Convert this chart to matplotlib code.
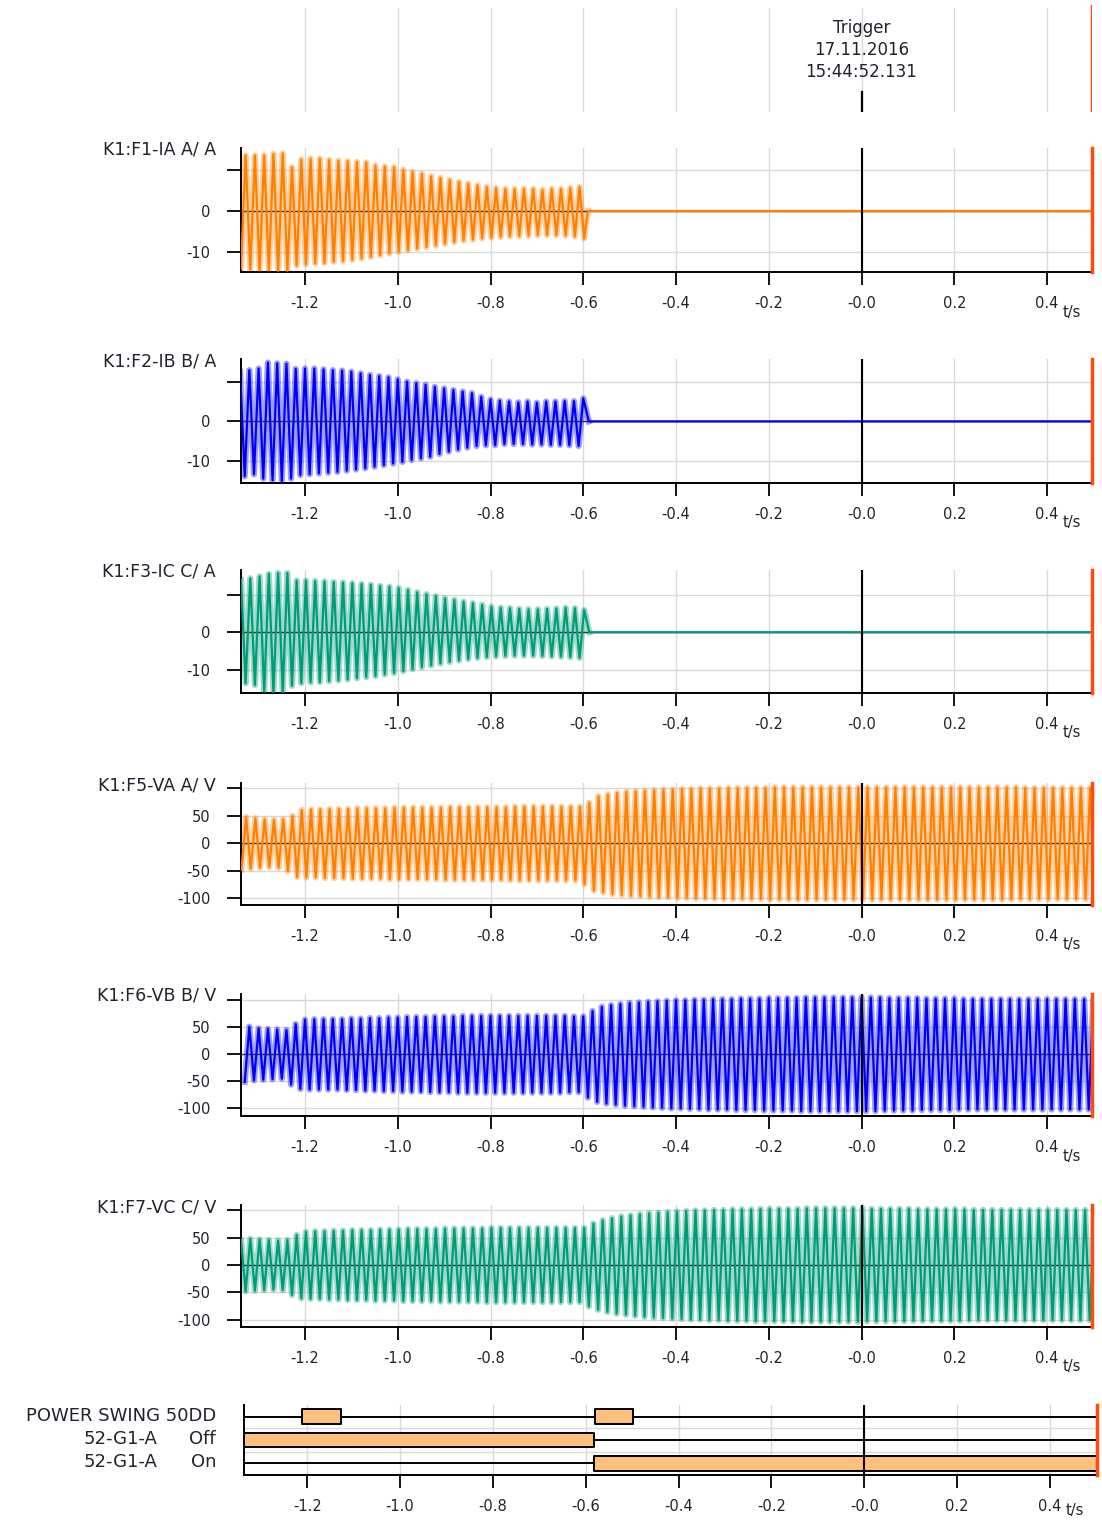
import numpy as np
import matplotlib
matplotlib.use("Agg")
import matplotlib.pyplot as plt

plt.rcParams['font.family'] = ['DejaVu Sans']

W, H = 1102, 1532

# record window (s), trigger at 0
t_first = -1.338
t_last = 0.497
half = 0.01   # half period, 50 Hz

xticks = [-1.2, -1.0, -0.8, -0.6, -0.4, -0.2, 0.0, 0.2, 0.4]
xticklabels = ['-1.2', '-1.0', '-0.8', '-0.6', '-0.4', '-0.2', '-0.0', '0.2', '0.4']

trigger_text = 'Trigger\n17.11.2016\n15:44:52.131'

# currents: successive half-wave peaks (A), one every 10 ms from the start time
ia_start = -1.338
ia_peaks = [-14.1, 13.6, -14.3, 13.6, -14.5, 13.6, -14.5, 14.0, -14.6, 14.1,
            -14.6, 10.7, -13.3, 12.6, -13.0, 12.8, -12.8, 12.8, -12.7, 12.5,
            -12.4, 12.3, -12.2, 12.2, -11.9, 12.0, -11.6, 11.9, -11.2, 11.1,
            -10.8, 10.9, -10.4, 10.7, -10.0, 10.1, -9.6, 9.5, -9.2, 9.1,
            -8.8, 8.5, -8.4, 8.1, -8.0, 7.6, -7.6, 7.1, -7.2, 6.7,
            -7.0, 6.3, -6.7, 5.9, -6.5, 5.6, -6.3, 5.4, -6.2, 5.4,
            -6.1, 5.4, -6.0, 5.4, -5.9, 5.2, -5.9, 5.4, -5.9, 5.4,
            -6.0, 5.6, -6.2, 5.9, -6.7]
ia_trip = -0.590

ib_start = -1.340
ib_peaks = [12.5, -13.8, 12.9, -13.3, 13.3, -14.4, 14.8, -14.8, 14.6, -15.0,
            14.5, -14.4, 13.2, -13.5, 13.3, -13.3, 13.3, -13.1, 13.1, -12.9,
            12.9, -12.7, 12.8, -12.4, 12.5, -12.1, 12.1, -11.8, 11.7, -11.4,
            11.4, -11.0, 11.1, -10.6, 10.6, -10.2, 10.0, -9.7, 9.6, -9.3,
            9.2, -8.9, 8.7, -8.2, 8.3, -7.6, 7.9, -7.1, 7.5, -6.6,
            7.1, -6.2, 6.2, -6.0, 5.5, -6.0, 5.2, -5.7, 5.0, -5.7,
            4.8, -5.7, 5.0, -5.8, 4.7, -5.8, 5.0, -5.9, 5.0, -5.9,
            5.1, -6.0, 5.1, -6.2, 5.8]
ib_trip = -0.588

ic_start = -1.338
ic_peaks = [13.9, -13.5, 14.3, -14.0, 14.8, -15.8, 15.5, -16.0, 15.7, -15.9,
            15.7, -14.2, 13.7, -13.5, 13.7, -13.3, 13.6, -13.2, 13.5, -13.0,
            13.3, -12.8, 13.2, -12.5, 13.0, -12.2, 12.8, -11.9, 12.6, -11.6,
            12.3, -11.2, 12.1, -10.8, 11.7, -10.3, 11.2, -9.8, 10.6, -9.3,
            10.1, -8.8, 9.6, -8.3, 9.0, -7.9, 8.6, -7.5, 8.1, -7.1,
            7.7, -6.8, 7.3, -6.6, 6.8, -6.4, 6.5, -6.3, 6.4, -6.2,
            6.2, -6.2, 6.1, -6.2, 6.1, -6.3, 6.2, -6.4, 6.3, -6.5,
            6.5, -6.6, 6.4, -6.8, 5.9]
ic_trip = -0.587

# voltages: peak of each cycle (V), negative half-wave first, 20 ms per cycle
va_start = -1.337
va_amp = [48, 46, 44, 43, 44, 50, 61,
          62, 62, 63, 63, 63, 64, 64, 64, 64, 65, 65, 65, 65, 65, 65,
          66, 66, 66, 66, 66, 66, 66, 67, 67, 67, 67, 67, 67, 67, 67, 74,
          86, 89, 92, 94, 95, 96, 97, 98, 98, 99, 99, 100, 100, 100, 101,
          101, 101, 101, 101, 102, 102, 102, 102, 102, 102, 102, 102, 102,
          102, 102, 102, 102, 102, 102, 102, 102, 102, 102, 102, 102, 102,
          102, 102, 102, 102, 102, 101, 101, 101, 101, 101, 101, 101, 101, 101]

vb_start = -1.330
vb_amp = [51, 48, 47, 46, 45, 56,
          64, 65, 65, 65, 65, 66, 66, 67, 67, 68, 68, 69, 69, 69, 70, 70,
          70, 71, 71, 71, 71, 71, 71, 71, 71, 71, 71, 71, 71, 70, 70, 80,
          88, 91, 93, 95, 96, 97, 98, 99, 100, 100, 101, 101, 102, 102, 102,
          103, 103, 103, 104, 104, 104, 104, 105, 105, 105, 105, 105, 105,
          105, 105, 105, 104, 104, 104, 104, 103, 103, 103, 103, 102, 102,
          102, 102, 102, 102, 102, 102, 102, 102, 102, 102, 102, 102, 102, 102]

vc_start = -1.348
vc_amp = [47, 48, 47, 46, 45, 46, 55,
          61, 62, 62, 63, 63, 64, 64, 64, 65, 65, 65, 66, 66, 66, 66, 67,
          67, 67, 67, 67, 68, 68, 68, 68, 68, 68, 68, 68, 68, 68, 68, 76,
          82, 86, 89, 91, 93, 95, 96, 97, 98, 99, 100, 100, 101, 101, 102,
          102, 102, 103, 103, 103, 103, 103, 104, 104, 104, 104, 104, 104,
          104, 103, 103, 103, 103, 103, 102, 102, 102, 102, 102, 102, 101,
          101, 101, 101, 101, 101, 101, 101, 101, 101, 101, 101, 101, 101, 101]

# binary channels: on intervals in s
digital_names = ['POWER SWING 50DD', '52-G1-A', '52-G1-A']
digital_states = ['', 'Off', 'On']
ps_on = [(-1.211, -1.127), (-0.581, -0.499)]
cb_off_on = [(-1.336, -0.582)]
cb_on_on = [(-0.582, 0.501)]

orange = '#FF8000'
blue = '#0000F5'
green = '#009B77'
red = '#FF4A10'
txt = '#22222e'


def current_trace(start, peaks, trip):
    t = start + half * np.arange(len(peaks))
    y = np.asarray(peaks, float)
    keep = t < trip
    t = np.concatenate([t[keep], [trip, t_last + 0.05]])
    y = np.concatenate([y[keep], [0.0, 0.0]])
    return t, y


def voltage_trace(start, amps):
    a = np.repeat(np.asarray(amps, float), 2)
    sign = np.tile([-1.0, 1.0], len(amps))
    t = start + half * np.arange(len(a))
    return t, a * sign


def px_axes(x0, x1, y0, y1):
    return fig.add_axes([x0 / W, 1 - y1 / H, (x1 - x0) / W, (y1 - y0) / H])


fig = plt.figure(figsize=(W / 100, H / 100), dpi=100)

# trigger header
top = px_axes(241, 1092, 5, 112)
top.set_xlim(t_first, t_last)
top.set_ylim(0, 1)
top.axis('off')
for x in xticks:
    top.axvline(x, color='#d9d9d9', lw=1, ymin=0, ymax=0.97)
top.axvline(0, color='black', lw=1.6, ymin=0, ymax=0.19)
top.axvline(t_last, color=red, lw=2.5)
top.text(0, 0.58, trigger_text, ha='center', va='center', fontsize=12,
         color=txt, linespacing=1.3)

panels = [
    ("K1:F1-IA A/ A", current_trace(ia_start, ia_peaks, ia_trip), ia_trip, orange,
     (-14.9, 15.4), [10, 0, -10], ['', '0', '-10'], 148, 272),
    ("K1:F2-IB B/ A", current_trace(ib_start, ib_peaks, ib_trip), ib_trip, blue,
     (-15.5, 15.7), [10, 0, -10], ['', '0', '-10'], 359, 483),
    ("K1:F3-IC C/ A", current_trace(ic_start, ic_peaks, ic_trip), ic_trip, green,
     (-16.1, 16.5), [10, 0, -10], ['', '0', '-10'], 570, 693),
    ("K1:F5-VA A/ V", voltage_trace(va_start, va_amp), None, orange,
     (-112, 110), [100, 50, 0, -50, -100], ['', '50', '0', '-50', '-100'], 783, 905),
    ("K1:F6-VB B/ V", voltage_trace(vb_start, vb_amp), None, blue,
     (-114, 111.5), [100, 50, 0, -50, -100], ['', '50', '0', '-50', '-100'], 994, 1116),
    ("K1:F7-VC C/ V", voltage_trace(vc_start, vc_amp), None, green,
     (-113.5, 110), [100, 50, 0, -50, -100], ['', '50', '0', '-50', '-100'], 1205, 1327),
]


def style_time_axis(ax, xlim):
    ax.set_xlim(*xlim)
    ax.set_xticks(xticks)
    ax.set_xticklabels(xticklabels)
    ax.tick_params(axis='x', length=9, width=1.3, pad=8, labelsize=10.5,
                   labelcolor=txt)
    for s in ['top', 'right']:
        ax.spines[s].set_visible(False)
    for s in ['left', 'bottom']:
        ax.spines[s].set_linewidth(1.4)
    ax.grid(True, color='#d9d9d9', lw=1)
    ax.set_axisbelow(True)
    ax.axvline(0, color='black', lw=1.5, zorder=5)
    ax.axvline(xlim[1], color=red, lw=2.5, zorder=6, clip_on=False)


for label, (t, y), trip, col, ylim, yt, ytl, ytop, ybot in panels:
    ax = px_axes(241, 1092, ytop, ybot)
    style_time_axis(ax, (t_first, t_last))
    ax.set_ylim(*ylim)
    ax.set_yticks(yt)
    ax.set_yticklabels(ytl)
    ax.tick_params(axis='y', length=10, width=1.3, pad=12, labelsize=10.5,
                   labelcolor=txt)
    live = t <= (trip if trip is not None else t_last + 1)
    ax.plot(t[live], y[live], color=col, lw=4.5, alpha=0.38, zorder=2,
            solid_joinstyle='round')
    ax.axhline(0, color='#333333', lw=1, zorder=3)
    ax.plot(t, y, color=col, lw=1.6, zorder=4)
    fig.text(216 / W, 1 - (ytop + 2) / H, label, ha='right', va='center',
             fontsize=12.5, color=txt)
    fig.text(1072 / W, 1 - (ybot + 40) / H, 't/s', ha='center', va='center',
             fontsize=10.5, color=txt)

# binary channels
dx = px_axes(244, 1097, 1405, 1475)
style_time_axis(dx, (-1.336, 0.501))
dx.set_ylim(0, 3)
dx.set_yticks([1, 2])
dx.set_yticklabels(['', ''])
dx.tick_params(axis='y', length=0)
rows = [ps_on, cb_off_on, cb_on_on]
for i, intervals in enumerate(rows):
    yc = 2.5 - i
    dx.hlines(yc, -1.336, 0.501, color='black', lw=1.4, zorder=3)
    dx.broken_barh([(a, b - a) for a, b in intervals], (yc - 0.32, 0.64),
                   facecolor='#FFC07E', edgecolor='black', lw=1.4, zorder=4)
    ypx = 1416 + 23 * i
    if digital_states[i]:
        fig.text(216 / W, 1 - ypx / H, digital_states[i], ha='right',
                 va='center', fontsize=13, color=txt)
        fig.text(157 / W, 1 - ypx / H, digital_names[i], ha='right',
                 va='center', fontsize=13, color=txt)
    else:
        fig.text(216 / W, 1 - ypx / H, digital_names[i], ha='right',
                 va='center', fontsize=13, color=txt)
fig.text(1075 / W, 1 - 1510 / H, 't/s', ha='center', va='center',
         fontsize=10.5, color=txt)

fig.savefig('out.png', dpi=100)
